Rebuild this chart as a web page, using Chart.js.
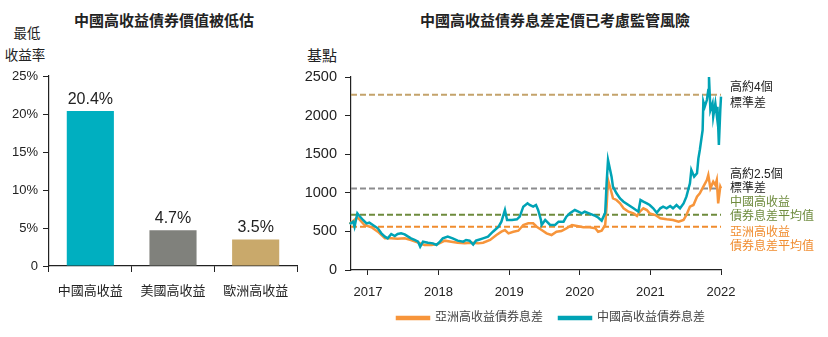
<!DOCTYPE html>
<html lang="zh-Hant">
<head>
  <meta charset="UTF-8">
  <title>中國高收益債券</title>
  <script src="https://cdn.jsdelivr.net/npm/chart.js"></script>
  <style>
    body { margin: 0; background: #fff; font-family: "Liberation Sans", Arial, "Noto Sans CJK TC", sans-serif; color: #222; }
    #page { position: relative; width: 828px; height: 337px; overflow: hidden; }
    .txt { position: absolute; white-space: nowrap; line-height: 1; }
    .title { font-size: 15px; font-weight: bold; transform: translate(-50%, -50%); }
    .unit { font-size: 13.5px; transform: translate(-50%, -50%); }
    canvas { position: absolute; top: 0; }
  </style>
</head>
<body>
<div id="page">
  <div class="txt title" style="left:164px; top:20px;">中國高收益債券價值被低估</div>
  <div class="txt unit" style="left:27px; top:34px;">最低</div>
  <div class="txt unit" style="left:25px; top:56px;">收益率</div>
  <div class="txt title" style="left:555px; top:20px;">中國高收益債券息差定價已考慮監管風險</div>
  <div class="txt unit" style="left:322px; top:55px; font-size:15px;">基點</div>
  <canvas id="yieldChart" width="310" height="337" style="left:0px;"></canvas>
  <canvas id="spreadChart" width="528" height="337" style="left:300px;"></canvas>
</div>

<script>
// left panel: minimum yield
const categories = ["中國高收益", "美國高收益", "歐洲高收益"];
const minYields = [20.4, 4.7, 3.5];
const barColors = ["#00AFC0", "#80817C", "#C9A96B"];

// right panel: spreads (bp), x in decimal years
const chinaYears = [2016.74, 2016.79, 2016.81, 2016.85, 2016.88, 2016.93, 2016.98, 2017.02, 2017.07, 2017.14,
  2017.19, 2017.24, 2017.28, 2017.33, 2017.38, 2017.42, 2017.47, 2017.52, 2017.57, 2017.61,
  2017.66, 2017.71, 2017.74, 2017.78, 2017.85, 2017.92, 2017.97, 2018.02, 2018.06, 2018.13,
  2018.20, 2018.27, 2018.35, 2018.39, 2018.44, 2018.49, 2018.53, 2018.56, 2018.63, 2018.70,
  2018.77, 2018.85, 2018.89, 2018.94, 2018.97, 2019.04, 2019.11, 2019.15, 2019.20, 2019.26,
  2019.29, 2019.34, 2019.38, 2019.41, 2019.45, 2019.46, 2019.51, 2019.58, 2019.65, 2019.70,
  2019.77, 2019.81, 2019.86, 2019.93, 2019.98, 2020.03, 2020.07, 2020.14, 2020.22, 2020.26,
  2020.31, 2020.36, 2020.38, 2020.40, 2020.43, 2020.45, 2020.47, 2020.52, 2020.57, 2020.62,
  2020.69, 2020.76, 2020.83, 2020.86, 2020.90, 2020.95, 2020.99, 2021.04, 2021.09, 2021.14,
  2021.18, 2021.23, 2021.28, 2021.32, 2021.37, 2021.42, 2021.47, 2021.51, 2021.56, 2021.58,
  2021.62, 2021.66, 2021.68, 2021.70, 2021.74, 2021.75, 2021.77, 2021.80, 2021.82, 2021.83,
  2021.85, 2021.88, 2021.89, 2021.92, 2021.94, 2021.95, 2021.97, 2021.99, 2022.00];
const chinaSpread = [596, 626, 561, 734, 699, 648, 604, 613, 583, 540,
  475, 432, 410, 466, 440, 466, 475, 462, 432, 410,
  389, 367, 302, 367, 354, 345, 324, 367, 410, 432,
  410, 380, 367, 389, 380, 330, 380, 389, 410, 432,
  496, 561, 626, 777, 648, 648, 656, 691, 820, 863,
  842, 820, 842, 777, 648, 583, 648, 583, 583, 626,
  626, 691, 734, 777, 755, 734, 755, 730, 700, 680,
  640, 740, 1122, 1425, 1295, 1209, 1079, 993, 928, 885,
  842, 799, 755, 907, 885, 863, 842, 799, 742, 799,
  820, 799, 829, 799, 842, 799, 863, 950, 1122, 1295,
  1209, 1252, 1446, 1554, 1813, 2180, 2115, 2202, 2331, 2500,
  2072, 2158, 1986, 2158, 2007, 2115, 1619, 2072, 2245];

const asiaYears = [2016.74, 2016.85, 2016.88, 2016.95, 2017.05, 2017.14, 2017.24, 2017.33, 2017.42, 2017.52,
  2017.61, 2017.71, 2017.80, 2017.90, 2017.99, 2018.09, 2018.18, 2018.27, 2018.37, 2018.46,
  2018.56, 2018.63, 2018.73, 2018.82, 2018.89, 2018.94, 2018.99, 2019.06, 2019.13, 2019.20,
  2019.27, 2019.34, 2019.39, 2019.46, 2019.53, 2019.60, 2019.67, 2019.74, 2019.81, 2019.89,
  2019.96, 2020.05, 2020.14, 2020.22, 2020.26, 2020.31, 2020.36, 2020.38, 2020.40, 2020.44,
  2020.47, 2020.52, 2020.57, 2020.62, 2020.69, 2020.76, 2020.81, 2020.85, 2020.90, 2020.95,
  2020.99, 2021.07, 2021.14, 2021.23, 2021.32, 2021.40, 2021.47, 2021.51, 2021.56, 2021.61,
  2021.66, 2021.70, 2021.75, 2021.80, 2021.82, 2021.85, 2021.89, 2021.92, 2021.94, 2021.96,
  2021.99, 2022.00];
const asiaSpread = [596, 680, 656, 583, 553, 496, 410, 410, 405, 410,
  389, 354, 324, 324, 337, 380, 367, 354, 345, 354,
  345, 354, 389, 453, 496, 518, 475, 496, 509, 583,
  604, 604, 561, 518, 475, 453, 496, 505, 540, 583,
  570, 553, 555, 540, 496, 509, 583, 820, 1166, 1036,
  928, 907, 863, 799, 755, 734, 699, 755, 799, 777,
  734, 712, 669, 656, 648, 626, 648, 712, 820, 842,
  950, 993, 1079, 1166, 1230, 1058, 1144, 1101, 1166, 863,
  1079, 1058];

// reference levels (bp)
const fourSigma = 2270;
const twoHalfSigma = 1055;
const chinaMean = 716;
const asiaMean = 561;

const yearTicks = [2017, 2018, 2019, 2020, 2021, 2022];
const axisStart = 2016.76;
const axisEnd = 2022;

Chart.defaults.font.family = '"Liberation Sans", Arial, "Noto Sans CJK TC", sans-serif';
Chart.defaults.color = '#222';
Chart.defaults.animation = false;

const AXIS = '#222';

// ---------- left: bar chart ----------
const barLabels = {
  id: 'barLabels',
  afterDatasetsDraw(chart) {
    const ctx = chart.ctx;
    ctx.save();
    ctx.font = '16px "Liberation Sans", Arial, sans-serif';
    ctx.fillStyle = '#222';
    ctx.textAlign = 'center';
    ctx.textBaseline = 'alphabetic';
    chart.getDatasetMeta(0).data.forEach((bar, i) => {
      ctx.fillText(minYields[i].toFixed(1) + '%', bar.x, bar.y - 7);
    });
    ctx.restore();
  }
};

new Chart(document.getElementById('yieldChart'), {
  type: 'bar',
  data: {
    labels: categories,
    datasets: [{
      data: minYields,
      backgroundColor: barColors,
      categoryPercentage: 1,
      barPercentage: 0.57
    }]
  },
  options: {
    responsive: false,
    layout: { padding: { top: 76, right: 13, bottom: 0, left: 0 } },
    plugins: { legend: { display: false }, tooltip: { enabled: false } },
    scales: {
      x: {
        grid: { offset: true, drawOnChartArea: false, tickLength: 6, color: AXIS },
        border: { color: AXIS, width: 1.2 },
        ticks: { font: { size: 13 }, padding: 12, color: '#222' },
        afterFit: s => { s.height = 71; }
      },
      y: {
        min: 0, max: 25,
        ticks: { stepSize: 5, font: { size: 13 }, padding: 5, color: '#222',
          callback: v => v === 0 ? '0' : v + '%' },
        grid: { drawOnChartArea: false, tickLength: 6, color: AXIS },
        border: { color: AXIS, width: 1.2 },
        afterFit: s => { s.width = 49; }
      }
    }
  },
  plugins: [barLabels]
});

// ---------- right: spread lines ----------
const toPoints = (xs, ys) => xs.map((x, i) => ({ x: x, y: ys[i] }));
const flatLine = v => [{ x: axisStart, y: v }, { x: axisEnd, y: v }];

const notes = [
  { level: fourSigma, color: '#222', lines: [['高約4個', -7], ['標準差', 9]] },
  { level: twoHalfSigma, color: '#222', lines: [['高約2.5個', -14], ['標準差', 0]] },
  { level: chinaMean, color: '#6E8B3D', lines: [['中國高收益', -12], ['債券息差平均值', 2]] },
  { level: asiaMean, color: '#F08C2E', lines: [['亞洲高收益', 6], ['債券息差平均值', 20]] }
];

const sideNotes = {
  id: 'sideNotes',
  afterDraw(chart) {
    const ctx = chart.ctx;
    const y = chart.scales.y;
    const x0 = chart.chartArea.right + 9;
    ctx.save();
    ctx.font = '12px "Liberation Sans", Arial, "Noto Sans CJK TC", sans-serif';
    ctx.textAlign = 'left';
    ctx.textBaseline = 'middle';
    notes.forEach(n => {
      const py = y.getPixelForValue(n.level);
      ctx.fillStyle = n.color;
      n.lines.forEach(([t, dy]) => ctx.fillText(t, x0, py + dy));
    });
    ctx.restore();
  }
};

const dashed = (v, color) => ({
  label: '', data: flatLine(v), borderColor: color, backgroundColor: color,
  borderWidth: 2, borderDash: [6, 3], pointRadius: 0, order: 5
});

new Chart(document.getElementById('spreadChart'), {
  type: 'line',
  data: {
    datasets: [
      { label: '亞洲高收益債券息差', data: toPoints(asiaYears, asiaSpread),
        borderColor: '#F7953B', backgroundColor: '#F7953B', borderWidth: 2.5,
        pointRadius: 0, tension: 0, order: 2 },
      { label: '中國高收益債券息差', data: toPoints(chinaYears, chinaSpread),
        borderColor: '#00A3B5', backgroundColor: '#00A3B5', borderWidth: 2.5,
        pointRadius: 0, tension: 0, order: 1 },
      dashed(fourSigma, '#C4A36B'),
      dashed(twoHalfSigma, '#8C8C8E'),
      dashed(chinaMean, '#6E8B3D'),
      dashed(asiaMean, '#F08C2E')
    ]
  },
  options: {
    responsive: false,
    clip: false,
    layout: { padding: { top: 77, right: 107, bottom: 3, left: 0 } },
    plugins: {
      tooltip: { enabled: false },
      legend: {
        position: 'bottom', align: 'end', fullSize: false,
        labels: {
          boxWidth: 32, boxHeight: 2, padding: 16, color: '#444',
          font: { size: 12 },
          filter: item => item.datasetIndex < 2,
          sort: (a, b) => a.datasetIndex - b.datasetIndex
        }
      }
    },
    scales: {
      x: {
        type: 'linear', min: axisStart, max: axisEnd,
        afterBuildTicks: s => { s.ticks = yearTicks.map(v => ({ value: v })); },
        ticks: { font: { size: 13 }, padding: 10, color: '#222', autoSkip: false, maxRotation: 0,
          callback: v => String(v) },
        grid: { drawOnChartArea: false, tickLength: 5, color: AXIS },
        border: { color: AXIS, width: 1.2 },
        afterFit: s => { s.height = 26; }
      },
      y: {
        min: 0, max: 2500,
        ticks: { stepSize: 500, font: { size: 14.5 }, padding: 8, color: '#222',
          callback: v => String(v) },
        grid: { drawOnChartArea: false, tickLength: 6, color: AXIS },
        border: { color: AXIS, width: 1.2 },
        afterFit: s => { s.width = 51; }
      }
    }
  },
  plugins: [sideNotes]
});
</script>
</body>
</html>
